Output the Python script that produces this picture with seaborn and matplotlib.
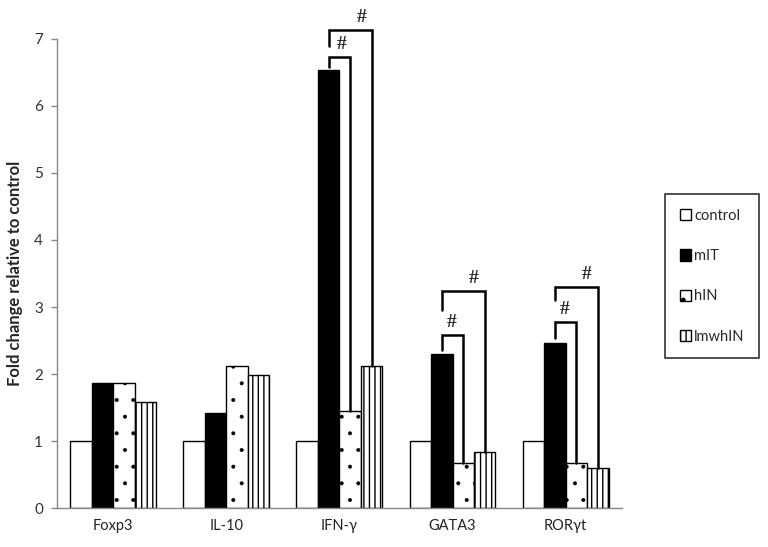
import pandas as pd
import matplotlib.pyplot as plt
import seaborn as sns
from matplotlib.patches import Patch

# values
genes = ['Foxp3', 'IL-10', 'IFN-γ', 'GATA3', 'RORγt']
groups = ['control', 'mIT', 'hIN', 'lmwhIN']
control = [1.0, 1.0, 1.0, 1.0, 1.0]
mIT = [1.87, 1.42, 6.53, 2.30, 2.47]
hIN = [1.87, 2.12, 1.45, 0.67, 0.68]
lmwhIN = [1.58, 1.98, 2.12, 0.84, 0.60]

# significance brackets: gene index, first group, second group, bracket top, left leg end
brk_gene = [2, 2, 3, 3, 4, 4]
brk_from = [1, 1, 1, 1, 1, 1]
brk_to = [2, 3, 2, 3, 2, 3]
brk_top = [6.73, 7.13, 2.58, 3.24, 2.78, 3.30]
brk_left_end = [6.58, 6.90, 2.36, 2.96, 2.54, 3.10]
brk_label_pos = [0.7, 1.3, 0.45, 1.25, 0.45, 1.25]

df = pd.DataFrame({
    'gene': genes * 4,
    'group': sum([[g] * len(genes) for g in groups], []),
    'value': control + mIT + hIN + lmwhIN,
})

colors = {'control': 'white', 'mIT': 'black', 'hIN': 'white', 'lmwhIN': 'white'}
hatches = ['', '', '.', '|||']
hatch_lw = [1.0, 1.0, 0.4, 1.0]

sns.set_style('white')
plt.rcParams['font.family'] = ['Lato', 'DejaVu Sans']
plt.rcParams['hatch.linewidth'] = 1.0

fig = plt.figure(figsize=(7.68, 5.47), dpi=100)
ax = fig.add_axes([0.074, 0.071, 0.736, 0.858])

bar_w = 0.76
sns.barplot(data=df, x='gene', y='value', hue='group', order=genes, hue_order=groups,
            palette=colors, width=bar_w, edgecolor='black', linewidth=1.0,
            legend=False, ax=ax)

for cont, h, hl in zip(ax.containers, hatches, hatch_lw):
    for p in cont:
        p.set_hatch(h)
        p.set_edgecolor('black')
        if hasattr(p, 'set_hatch_linewidth'):
            p.set_hatch_linewidth(hl)

ax.set_xlim(-0.5, 4.5)
ax.set_ylim(0, 7)
ax.set_yticks(range(0, 8))
ax.set_xlabel('')
ax.set_ylabel('Fold change relative to control', fontsize=12, fontweight='bold', labelpad=8)
ax.tick_params(axis='y', which='both', left=True, length=4, width=1, color='#888888',
               labelsize=11, labelcolor='#333333', pad=6)
ax.tick_params(axis='x', length=0, labelsize=10.5, labelcolor='#222222', pad=8)
sns.despine(ax=ax)
for s in ['left', 'bottom']:
    ax.spines[s].set_color('#888888')
    ax.spines[s].set_linewidth(1.0)

# bar centres within a group
step = bar_w / len(groups)
def bar_x(gene_i, grp_i):
    return gene_i + (grp_i - (len(groups) - 1) / 2) * step

bar_vals = [control, mIT, hIN, lmwhIN]
for gi, a, b, top, lend, lp in zip(brk_gene, brk_from, brk_to, brk_top, brk_left_end, brk_label_pos):
    x1 = bar_x(gi, a)
    x2 = bar_x(gi, b)
    y2 = bar_vals[b][gi]
    ax.plot([x1, x1, x2, x2], [lend, top, top, y2], color='black', lw=1.8,
            clip_on=False, solid_joinstyle='miter')
    ax.text(x1 + (x2 - x1) * lp * 0.5 + step * 0.25, top + 0.06, '#',
            ha='center', va='bottom', fontsize=14, fontweight='bold',
            family='Liberation Serif', clip_on=False)

handles = [Patch(facecolor=colors[g], edgecolor='black', hatch=h, linewidth=1.0)
           for g, h in zip(groups, hatches)]
leg = fig.legend(handles, groups, loc='center left', bbox_to_anchor=(0.866, 0.495),
                 frameon=True, fancybox=False, edgecolor='black', fontsize=10.5,
                 handlelength=0.8, handleheight=0.8, handletextpad=0.2,
                 labelspacing=1.8, borderpad=1.0, borderaxespad=0)
leg.get_frame().set_linewidth(1.2)

fig.savefig('out.png', dpi=100)
